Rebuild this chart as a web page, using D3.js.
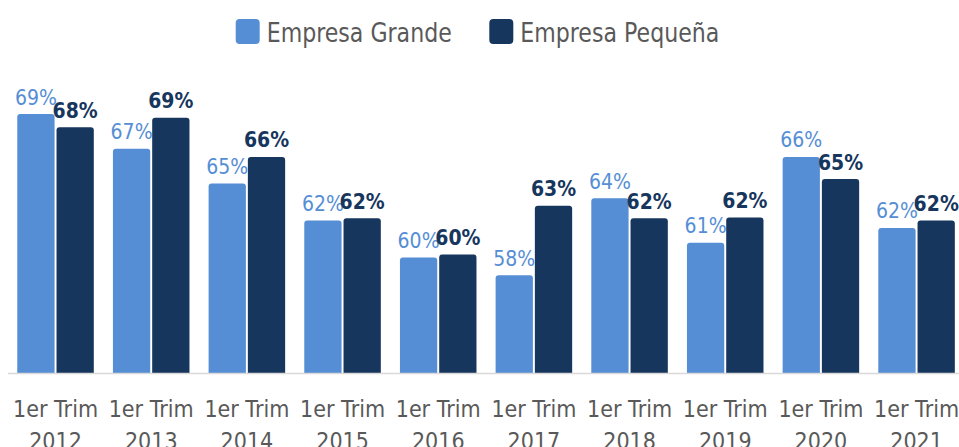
<!DOCTYPE html>
<html>
<head>
  <meta charset="utf-8">
  <title>Empresa Grande vs Pequeña</title>
  <script src="https://d3js.org/d3.v7.min.js"></script>
  <style>
    body { margin: 0; background: #fff; }
    text { font-family: "DejaVu Sans", sans-serif; }
  </style>
</head>
<body>
  <div id="chart"></div>
  <script>
  const categories = ["2012", "2013", "2014", "2015", "2016", "2017", "2018", "2019", "2020", "2021"];
  const series = ["Empresa Grande", "Empresa Pequeña"];
  const grande = [69.3, 66.96, 64.6, 62.1, 59.6, 58.4, 63.6, 60.6, 66.4, 61.6];
  const pequena = [68.4, 69.05, 66.4, 62.25, 59.8, 63.1, 62.25, 62.3, 64.9, 62.1];
  const colors = ["#558ed5", "#17365d"];

  const W = 959, H = 447;
  const baseY = 373;
  const squeeze = 0.9; // narrow the glyphs, the original font is condensed

  const svg = d3.select("#chart")
    .append("svg")
    .attr("width", W)
    .attr("height", H);

  const x0 = d3.scaleBand()
    .domain(categories)
    .range([7.7, 964.4])
    .paddingInner(0.2)
    .paddingOuter(0.1);

  const x1 = d3.scaleBand()
    .domain(series)
    .range([0, x0.bandwidth()])
    .paddingInner(0.05);

  const y = d3.scaleLinear()
    .domain([51.8, 70])
    .range([baseY, baseY - 14.8 * 18.2]);

  const rows = categories.map((c, i) => ({ cat: c, vals: [grande[i], pequena[i]] }));

  // rounded-top bar path
  function barPath(x, yTop, w, r) {
    const h = baseY - yTop;
    r = Math.min(r, h);
    return `M${x},${baseY}V${yTop + r}Q${x},${yTop} ${x + r},${yTop}H${x + w - r}Q${x + w},${yTop} ${x + w},${yTop + r}V${baseY}Z`;
  }

  const groups = svg.selectAll("g.grp")
    .data(rows)
    .enter()
    .append("g")
    .attr("class", "grp")
    .attr("transform", d => `translate(${x0(d.cat)},0)`);

  groups.selectAll("path")
    .data(d => d.vals.map((v, j) => ({ s: series[j], v, j })))
    .enter()
    .append("path")
    .attr("d", d => barPath(x1(d.s), y(d.v), x1.bandwidth(), 3))
    .attr("fill", d => colors[d.j]);

  groups.selectAll("text.val")
    .data(d => d.vals.map((v, j) => ({ s: series[j], v, j })))
    .enter()
    .append("text")
    .attr("class", "val")
    .attr("transform", d => `translate(${x1(d.s) + x1.bandwidth() / 2},${y(d.v) - 9.5}) scale(${squeeze},1)`)
    .attr("text-anchor", "middle")
    .attr("font-size", 21)
    .attr("font-weight", d => d.j === 1 ? "bold" : "normal")
    .attr("fill", d => colors[d.j])
    .text(d => Math.round(d.v) + "%");

  // baseline
  svg.append("line")
    .attr("x1", 8).attr("x2", W)
    .attr("y1", baseY + 0.5).attr("y2", baseY + 0.5)
    .attr("stroke", "#d9d9d9")
    .attr("stroke-width", 1.5);

  // category labels
  const xAxis = svg.append("g")
    .attr("transform", `translate(0,${baseY})`)
    .call(d3.axisBottom(x0).tickSize(0).tickPadding(0).tickFormat(() => ""));
  xAxis.select(".domain").remove();
  xAxis.selectAll(".tick text").remove();
  xAxis.selectAll(".tick").each(function(d) {
    const t = d3.select(this).append("text")
      .attr("transform", `scale(${squeeze},1)`)
      .attr("text-anchor", "middle")
      .attr("font-size", 23)
      .attr("fill", "#595959");
    t.append("tspan").attr("x", 0).attr("y", 44).text("1er Trim");
    t.append("tspan").attr("x", 0).attr("y", 76).text(d);
  });

  // legend
  const legendX = [235.7, 489.3];
  const legend = svg.selectAll("g.leg")
    .data(series)
    .enter()
    .append("g")
    .attr("class", "leg")
    .attr("transform", (d, i) => `translate(${legendX[i]},19)`);
  legend.append("rect")
    .attr("width", 24).attr("height", 25)
    .attr("rx", 4)
    .attr("fill", (d, i) => colors[i]);
  legend.append("text")
    .attr("transform", "translate(31,22.5) scale(0.85,1)")
    .attr("font-size", 26)
    .attr("fill", "#595959")
    .text(d => d);
  </script>
</body>
</html>
